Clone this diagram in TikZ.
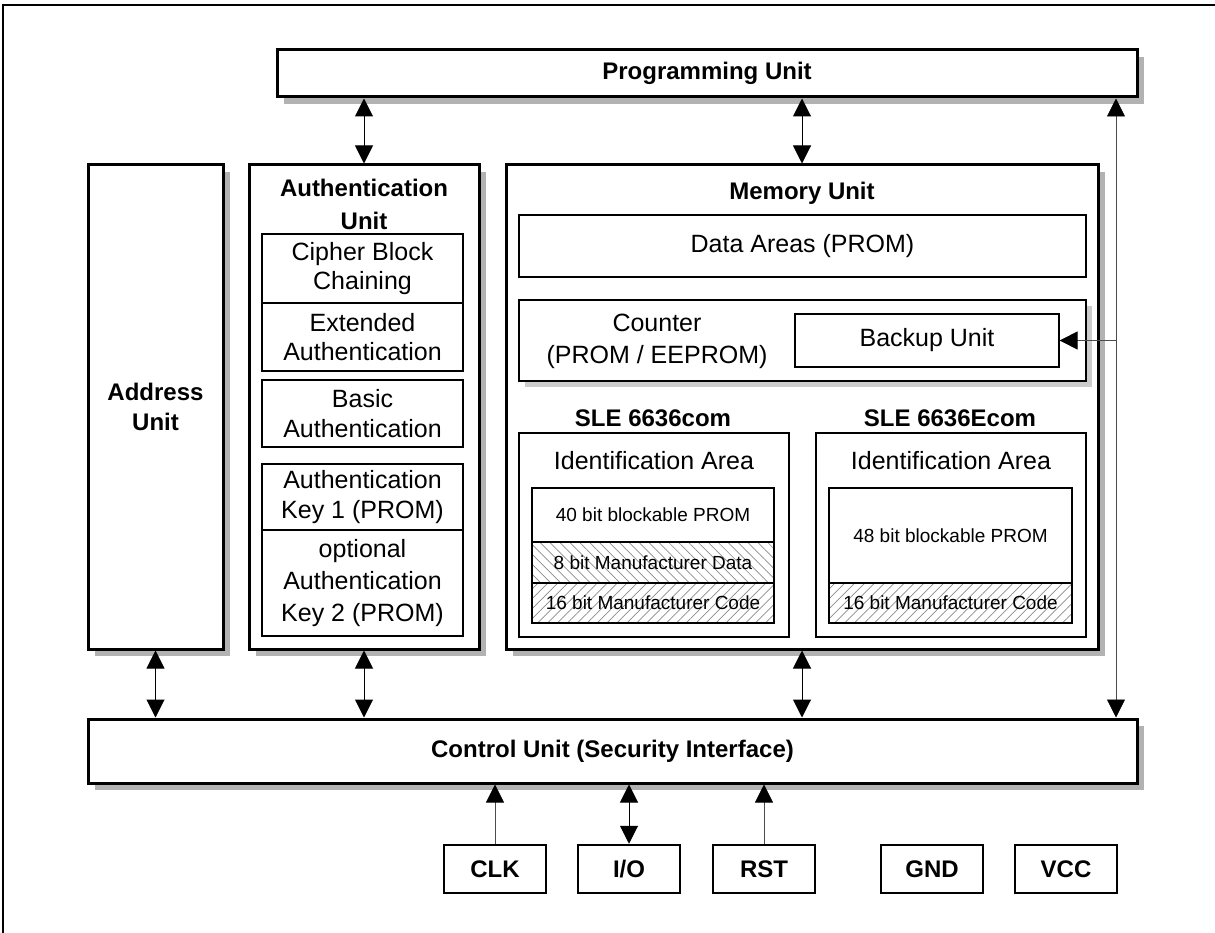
\documentclass[tikz,border=0pt]{standalone}
\usepackage{fontspec}
\setmainfont{Liberation Sans}
\usetikzlibrary{arrows.meta,shadows,patterns.meta}
\newcommand\rbx[7]{\node[#1,minimum width={#5-#3},minimum height={#6-#4}] (#2) at ({(#3+#5)/2},{(#4+#6)/2}) {#7};}
\begin{document}
\begin{tikzpicture}[x=1pt,y=-1pt,
  box/.style={draw,line width=3pt,fill=white,inner sep=0pt,align=center},
  sub/.style={draw,line width=1.3pt,fill=white,inner sep=0pt,align=center},
  row/.style={draw,line width=1.8pt,inner sep=0pt,align=center},
  shd/.style={drop shadow={shadow xshift=7pt,shadow yshift=-7pt,opacity=1,fill=black!30}},
  lshd/.style={drop shadow={shadow xshift=6pt,shadow yshift=-6pt,opacity=1,fill=black!20}},
  pin/.style={draw,line width=2.5pt,fill=white,inner sep=0pt,bold},
  bold/.style={font=\bfseries\fontsize{24}{30}\selectfont},
  big/.style={font=\fontsize{25}{29.5}\selectfont},
  small/.style={font=\fontsize{19}{22}\selectfont},
  hatchA/.style={pattern={Lines[angle=-45,distance=7pt,line width=0.7pt]},pattern color=black!45},
  hatchB/.style={pattern={Lines[angle=45,distance=7pt,line width=0.7pt]},pattern color=black!45},
  dbl/.style={{Triangle[length=18pt,width=18pt,color=black]}-{Triangle[length=18pt,width=18pt,color=black]},line width=1pt},
  sgl/.style={-{Triangle[length=18pt,width=18pt,color=black]},line width=1pt},
  thin/.style={line width=0.8pt,black!70}
]
\useasboundingbox (0,0) rectangle (1215,933);
\fill[white] (0,0) rectangle (1215,933);
% frame (only left and top edges are visible)
\draw[line width=2.2pt] (3,940) -- (3,5) -- (1220,5);

% programming unit
\rbx{box,shd,bold}{prog}{277}{50}{1137}{97}{Programming Unit}

% address unit
\rbx{box,shd,bold}{addr}{88}{165}{223}{649}{Address\\Unit}

% authentication unit
\rbx{box,shd}{auth}{249}{165}{479}{649}{}
\node[align=center,font=\bfseries\fontsize{24}{33}\selectfont] (authT) at (364,204) {Authentication\\Unit};
\rbx{sub,big}{cbc}{262}{234}{463}{303}{Cipher Block\\Chaining}
\rbx{sub,big}{ext}{262}{303}{463}{371}{Extended\\Authentication}
\rbx{sub,big}{basic}{262}{380}{463}{447}{Basic\\Authentication}
\rbx{sub,big}{key1}{262}{464}{463}{530}{Authentication\\Key 1 (PROM)}
\rbx{sub,font=\fontsize{25}{32}\selectfont}{key2}{262}{530}{463}{636}{optional\\Authentication\\Key 2 (PROM)}

% memory unit
\rbx{box,shd}{mem}{506}{165}{1098}{649}{}
\node[bold] (memT) at (802,193) {Memory Unit};
\rbx{sub,big,line width=1.5pt}{data}{519}{215}{1086}{277}{Data Areas (PROM)}
\rbx{sub,line width=1.5pt,lshd}{counter}{519}{300}{1086}{381}{}
\node[align=center,font=\fontsize{25}{32}\selectfont] (counterT) at (657,341) {Counter\\(PROM / EEPROM)};
\rbx{sub,big,line width=1.2pt}{backup}{795}{314}{1059}{367}{Backup Unit}

\node[bold] (sle1) at (653,418) {SLE 6636com};
\node[bold] (sle2) at (950,418) {SLE 6636Ecom};
\rbx{sub,line width=1.2pt}{id1}{519}{433}{789}{637}{}
\rbx{sub,line width=1.2pt}{id2}{816}{433}{1086}{637}{}
\node[big] (id1T) at (654,461) {Identification Area};
\node[big] (id2T) at (951,461) {Identification Area};

\rbx{row,small,fill=white}{p40}{532}{488}{774}{542}{40 bit blockable PROM}
\rbx{row,small,hatchA}{md8}{532}{542}{774}{583}{8 bit Manufacturer Data}
\rbx{row,small,hatchB}{mc1}{532}{583}{774}{623}{16 bit Manufacturer Code}
\rbx{row,small,fill=white}{p48}{829}{488}{1072}{583}{48 bit blockable PROM}
\rbx{row,small,hatchB}{mc2}{829}{583}{1072}{623}{16 bit Manufacturer Code}

% control unit
\rbx{box,shd,bold}{ctrl}{88}{719}{1137}{783}{Control Unit (Security Interface)}

% pins
\rbx{pin}{clk}{444}{845}{546}{893}{CLK}
\rbx{pin}{io}{578}{845}{680}{893}{I/O}
\rbx{pin}{rst}{713}{845}{815}{893}{RST}
\rbx{pin}{gnd}{881}{845}{983}{893}{GND}
\rbx{pin}{vcc}{1015}{845}{1117}{893}{VCC}

% connectors
\draw[dbl] (auth.north) -- (auth.north |- prog.south);
\draw[dbl] (mem.north) -- (mem.north |- prog.south);
\draw[dbl] (addr.south) -- (addr.south |- ctrl.north);
\draw[dbl] (auth.south) -- (auth.south |- ctrl.north);
\draw[dbl] (mem.south) -- (mem.south |- ctrl.north);
\coordinate (jn) at (1116,340.5);
\draw[dbl,thin] (jn |- ctrl.north) -- (jn |- prog.south);
\draw[sgl,thin] (jn) -- (backup.east);
\draw[sgl,thin] (clk.north) -- (clk.north |- ctrl.south);
\draw[dbl] (io.north) -- (io.north |- ctrl.south);
\draw[sgl,thin] (rst.north) -- (rst.north |- ctrl.south);
\end{tikzpicture}
\end{document}
